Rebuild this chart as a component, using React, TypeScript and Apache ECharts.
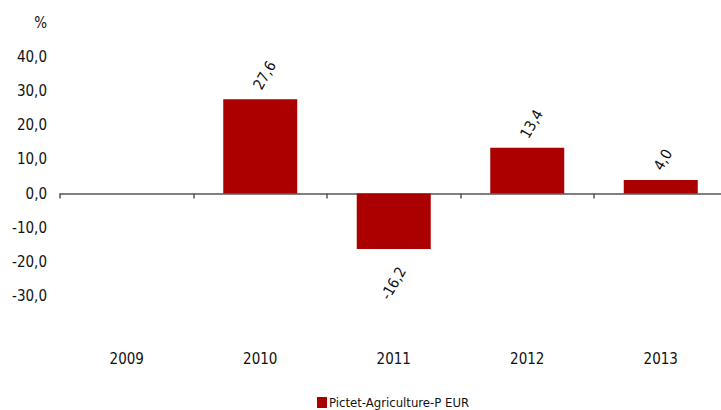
import React, { useEffect, useRef } from "react";
import * as echarts from "echarts";

const categories = ["2009", "2010", "2011", "2012", "2013"];
const values: (number | null)[] = [null, 27.6, -16.2, 13.4, 4.0];
const seriesName = "Pictet-Agriculture-P EUR";
const yTicks = { min: -40, max: 50, interval: 10 };

const FONT = "'Liberation Sans Narrow', 'DejaVu Sans Condensed', sans-serif";
const fmt = (v: number) => v.toFixed(1).replace(".", ",");

export default function App() {
  const ref = useRef<HTMLDivElement>(null);
  useEffect(() => {
    document.body.style.margin = "0";
    const chart = echarts.init(ref.current!, null, { renderer: "svg" });
    const data = values.map((v) => {
      if (v === null) return null;
      return {
        value: v,
        label:
          v >= 0
            ? { position: "top", align: "left", verticalAlign: "middle", distance: 16, offset: [-6, 0] }
            : { position: "bottom", align: "right", verticalAlign: "middle", distance: 34, offset: [17, 0] },
      };
    });
    chart.setOption({
      animation: false,
      backgroundColor: "#ffffff",
      textStyle: { fontFamily: FONT },
      grid: { left: 60, right: 0.5, top: 22.5, bottom: 79.5, containLabel: false },
      legend: {
        data: [seriesName],
        left: 312,
        top: 391,
        itemWidth: 10,
        itemHeight: 11,
        itemGap: 4,
        icon: "rect",
        textStyle: { fontFamily: FONT, fontSize: 13, color: "#111", padding: [0, 0, 0, -3] },
      },
      xAxis: [
        {
          type: "category",
          data: categories,
          position: "bottom",
          axisLine: { show: true, onZero: true, lineStyle: { color: "#555", width: 1.5 } },
          axisTick: { show: true, length: 5, interval: 0, lineStyle: { color: "#555", width: 1.5 } },
          axisLabel: { show: false },
        },
        {
          type: "category",
          data: categories,
          position: "bottom",
          axisLine: { show: false, onZero: false },
          axisTick: { show: false },
          axisLabel: { show: true, margin: 21, fontSize: 15, color: "#111", fontFamily: FONT },
        },
      ],
      yAxis: {
        type: "value",
        min: yTicks.min,
        max: yTicks.max,
        interval: yTicks.interval,
        axisLine: { show: false },
        axisTick: { show: false },
        splitLine: { show: false },
        axisLabel: {
          margin: 13,
          fontSize: 15,
          color: "#111",
          fontFamily: FONT,
          formatter: (v: number) => (v === yTicks.max ? "%" : v === yTicks.min ? "" : fmt(v)),
        },
      },
      series: [
        {
          name: seriesName,
          type: "bar",
          xAxisIndex: 0,
          data,
          barWidth: 74,
          itemStyle: { color: "#AA0000" },
          label: {
            show: true,
            rotate: 60,
            fontSize: 15,
            color: "#111",
            fontFamily: FONT,
            formatter: (p: any) => fmt(p.value),
          },
        },
      ],
    });
    return () => chart.dispose();
  }, []);
  return (
    <div style={{ width: 721, height: 410, overflow: "hidden", position: "relative" }}>
      <div ref={ref} style={{ width: 728, height: 410 }} />
    </div>
  );
}
